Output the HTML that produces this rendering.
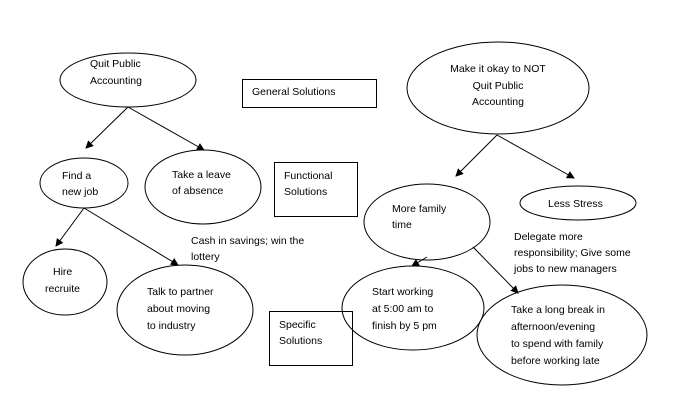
<!DOCTYPE html>
<html><head><meta charset="utf-8"><style>
html,body{margin:0;padding:0;background:#fff;}
svg{display:block;}
text{font-family:"Liberation Sans",sans-serif;font-size:10.5px;fill:#000;}
</style></head><body>
<svg width="679" height="418" viewBox="0 0 679 418" xmlns="http://www.w3.org/2000/svg">
<defs><marker id="a" markerWidth="8" markerHeight="8" refX="7" refY="4" orient="auto" markerUnits="userSpaceOnUse"><path d="M0,0 L8,4 L0,8 z" fill="#000"/></marker></defs>
<g fill="none" stroke="#000" stroke-width="1">
<ellipse cx="128" cy="80" rx="68" ry="27"/>
<rect x="242.5" y="79.5" width="134" height="28"/>
<ellipse cx="84" cy="183" rx="44" ry="25"/>
<ellipse cx="203" cy="187" rx="58" ry="37"/>
<rect x="274.5" y="162.5" width="83" height="54"/>
<ellipse cx="65" cy="282" rx="42" ry="33"/>
<ellipse cx="185" cy="310" rx="68" ry="45"/>
<rect x="269.5" y="311.5" width="83" height="54"/>
<ellipse cx="498" cy="88" rx="91" ry="46"/>
<ellipse cx="427" cy="222" rx="63" ry="38"/>
<ellipse cx="578" cy="203" rx="58" ry="17"/>
<ellipse cx="413" cy="308" rx="71" ry="42"/>
<ellipse cx="562" cy="335" rx="85" ry="50"/>
<g marker-end="url(#a)">
<line x1="128" y1="107" x2="86" y2="148"/>
<line x1="128" y1="107" x2="204" y2="150"/>
<line x1="84" y1="208" x2="56" y2="246"/>
<line x1="84" y1="208" x2="178" y2="265"/>
<line x1="497" y1="135" x2="456" y2="176"/>
<line x1="497" y1="135" x2="574" y2="178"/>
<line x1="427" y1="257" x2="412" y2="266"/>
<line x1="473" y1="247" x2="518" y2="293"/>
</g>
</g>
<text x="90" y="67">Quit Public</text>
<text x="90" y="84">Accounting</text>
<text x="252" y="95">General Solutions</text>
<text x="62" y="179">Find a</text>
<text x="62" y="195">new job</text>
<text x="172" y="178">Take a leave</text>
<text x="172" y="194">of absence</text>
<text x="284" y="179">Functional</text>
<text x="284" y="195">Solutions</text>
<text x="53" y="275">Hire</text>
<text x="45" y="292">recruite</text>
<text x="191" y="244">Cash in savings; win the</text>
<text x="191" y="260">lottery</text>
<text x="147" y="295">Talk to partner</text>
<text x="147" y="312">about moving</text>
<text x="147" y="329">to industry</text>
<text x="279" y="328">Specific</text>
<text x="279" y="344">Solutions</text>
<text x="498" y="72" text-anchor="middle">Make it okay to NOT</text>
<text x="498" y="89" text-anchor="middle">Quit Public</text>
<text x="498" y="105" text-anchor="middle">Accounting</text>
<text x="392" y="212">More family</text>
<text x="392" y="228">time</text>
<text x="548" y="207">Less Stress</text>
<text x="514" y="240">Delegate more</text>
<text x="514" y="256">responsibility; Give some</text>
<text x="514" y="272">jobs to new managers</text>
<text x="372" y="295">Start working</text>
<text x="372" y="312">at 5:00 am to</text>
<text x="372" y="329">finish by 5 pm</text>
<text x="511" y="313">Take a long break in</text>
<text x="511" y="330">afternoon/evening</text>
<text x="511" y="347">to spend with family</text>
<text x="511" y="364">before working late</text>
</svg>
</body></html>
